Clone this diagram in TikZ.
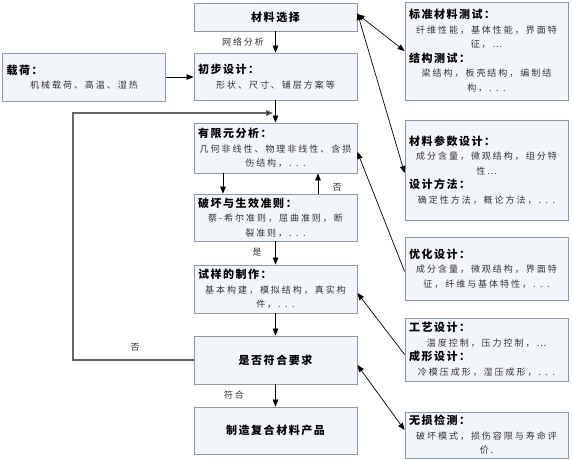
\documentclass[tikz,border=0pt]{standalone}
\usepackage{fontspec}
\setmainfont{Noto Sans CJK SC}
\newfontfamily\bodyfont[LetterSpace=22]{Noto Sans CJK SC}
\newfontfamily\ttlfont[LetterSpace=14]{Noto Sans CJK SC}
\usetikzlibrary{arrows.meta,calc}
\definecolor{bordercol}{HTML}{8C99A6}
\definecolor{boxfill}{HTML}{F2F5FA}
\definecolor{bodycol}{HTML}{333333}
\definecolor{loopcol}{HTML}{666666}
\newcommand\ttl[1]{{\fontsize{11}{14}\ttlfont\bfseries\color{black}#1}}
\newcommand\tline[1]{\makebox[157pt][l]{\hspace{1pt}\ttl{#1}}}
\tikzset{
  box/.style={draw=bordercol, fill=boxfill, line width=0.8pt, minimum width=163pt,
    text width=157pt, align=center, inner sep=0pt,
    font=\fontsize{9}{14.5}\bodyfont\color{bodycol}},
  arr/.style={line width=0.7pt, -{Triangle[length=7pt,width=5.5pt]}},
  darr/.style={line width=0.7pt, {Triangle[length=7pt,width=5.5pt]}-{Triangle[length=7pt,width=5.5pt]}},
  looparr/.style={draw=loopcol, line width=1.3pt, -{Triangle[length=7pt,width=6pt,fill=black]}},
  lbl/.style={font=\fontsize{9}{11}\bodyfont\color{bodycol}, inner sep=0pt}
}
\begin{document}
\begin{tikzpicture}[x=1pt,y=-1pt]
\fill[white] (0,0) rectangle (572,459);
\useasboundingbox (0,0) rectangle (572,459);
% centre column
\node[box, minimum height=28pt] (sel) at (275.5,17) {\ttl{材料选择}};
\node[box, minimum height=47pt] (pre) at (275.5,76.5) {\tline{初步设计：}\\形状、尺寸、铺层方案等};
\node[box, minimum height=48pt] (load) at (84,77) {\tline{载荷：}\\机械载荷、高温、湿热};
\node[box, minimum height=50pt] (fea) at (275.5,148) {\tline{有限元分析：}\\几何非线性、物理非线性、含损\\伤结构，. . .};
\node[box, minimum height=47pt] (crit) at (275.5,217.5) {\tline{破坏与生效准则：}\\蔡-希尔准则，屈曲准则，断\\裂准则，. . .};
\node[box, minimum height=48pt] (spec) at (275.5,289) {\tline{试样的制作：}\\基本构建，模拟结构，真实构\\件，. . .};
\node[box, minimum height=48pt] (req) at (275.5,360) {\ttl{是否符合要求}};
\node[box, minimum height=47pt] (prod) at (275.5,430.5) {\ttl{制造复合材料产品}};
% right column
\node[box, minimum height=98pt] (r1) at (486.5,51) {\tline{标准材料测试：}\\纤维性能，基体性能，界面特\\征，…\\\tline{结构测试：}\\梁结构，板壳结构，编制结\\构，. . .};
\node[box, minimum height=100pt] (r2) at (486.5,170) {\tline{材料参数设计：}\\成分含量，微观结构，组分特\\性…\\\tline{设计方法：}\\确定性方法，概论方法，. . .};
\node[box, minimum height=63pt] (r3) at (486.5,268.5) {\tline{优化设计：}\\成分含量，微观结构，界面特\\征，纤维与基体特性，. . .};
\node[box, minimum height=63pt] (r4) at (486.5,349.5) {\tline{工艺设计：}\\温度控制，压力控制，…\\\tline{成形设计：}\\冷模压成形，湿压成形，. . .};
\node[box, minimum height=46pt] (r5) at (486.5,435) {\tline{无损检测：}\\破坏模式，损伤容限与寿命评\\价.};
% helper coordinates
\coordinate (cL) at (223,0);
\coordinate (cR) at (318,0);
\coordinate (lp1) at (73,113);
\coordinate (lp2) at (273,113);
% main flow
\draw[arr] (sel) -- (pre);
\draw[arr] (load.east) -- (load.east -| pre.west);
\draw[arr] (pre) -- (fea);
\draw[arr] (fea.south -| cL) -- (crit.north -| cL);
\draw[arr] (crit.north -| cR) -- (fea.south -| cR);
\draw[arr] (crit) -- (spec);
\draw[arr] (spec) -- (req);
\draw[arr] (req) -- (prod);
\draw[looparr] (req.west) -| (lp1) -- (lp2);
% labels
\node[lbl] (l1) at (243,42) {网络分析};
\node[lbl] (l2) at (337,187) {否};
\node[lbl] (l3) at (257,252) {是};
\node[lbl] (l4) at (234,395) {符合};
\node[lbl] (l5) at (135,347) {否};
% right connectors
\draw[darr] ([yshift=3pt]sel.east) -- (r1.west);
\draw[darr] ([yshift=4pt]sel.east) -- ([yshift=-3pt]r2.west);
\draw[arr] ([yshift=-3pt]r3.west) -- ([yshift=-4pt]fea.east);
\draw[arr] ([yshift=-5pt]r4.west) -- ([yshift=-4pt]spec.east);
\draw[darr] ([yshift=-5pt]req.east) -- ([yshift=5pt]r5.west);
\end{tikzpicture}
\end{document}
